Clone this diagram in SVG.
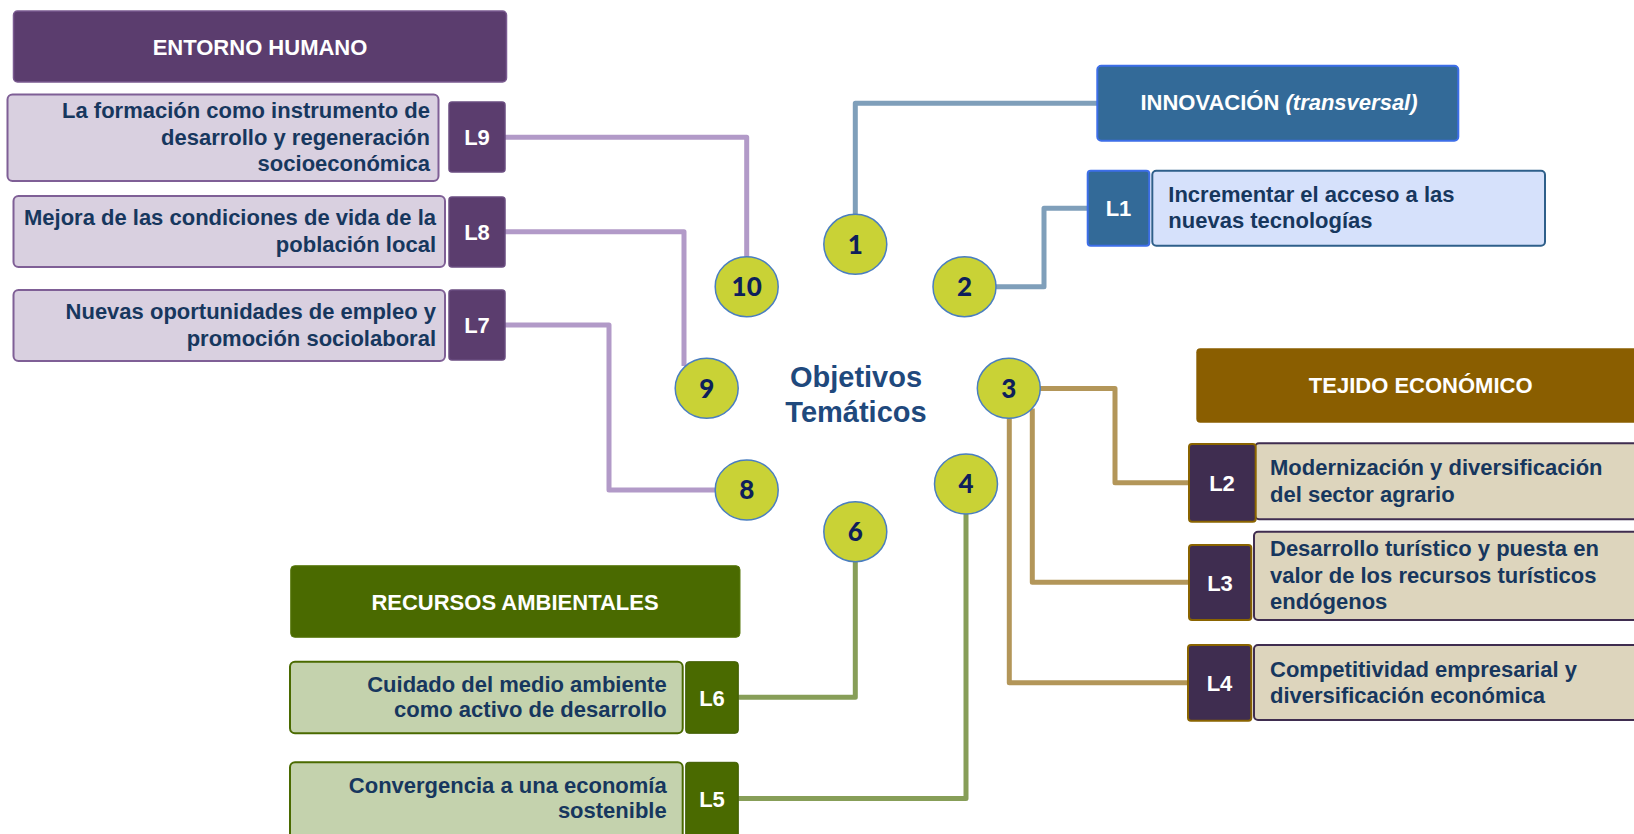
<svg xmlns="http://www.w3.org/2000/svg" width="1634" height="834" viewBox="0 0 1634 834">
<style>
text{font-family:"Liberation Sans",Arial,sans-serif;font-weight:bold}
.hdr{fill:#fff;font-size:22px;text-anchor:middle}
.body{fill:#17375e;font-size:22px}
.r{text-anchor:end}
.tag{fill:#fff;font-size:22px;text-anchor:middle}
.num{font-family:Lato,"Open Sans",sans-serif;font-size:26px;font-weight:900;fill:#0e1f5b;text-anchor:middle}
.circ{fill:#c9d236;stroke:#4a7ec0;stroke-width:1.5}
.con{fill:none;stroke-width:5;stroke-linejoin:round}
.cp{stroke:#b29ac8}.cb{stroke:#7f9fba}.cg{stroke:#b39659}.cv{stroke:#879e58}
.hP{fill:#5b3d6e;stroke:#7a5a90;stroke-width:1.5}
.bP{fill:#d9d0e0;stroke:#7f5f96;stroke-width:2}
.tP{fill:#5b3d6e;stroke:#6a4c80;stroke-width:1.5}
.hB{fill:#336a98;stroke:#3d6ee8;stroke-width:2}
.bB{fill:#d6e1fb;stroke:#2e5f8a;stroke-width:2}
.hG{fill:#8a5e00}
.tG{fill:#3f2d50;stroke:#8a6400;stroke-width:2}
.bG{fill:#ddd5bd;stroke:#3f2d50;stroke-width:2}
.hV{fill:#4a6a00;stroke:#5a7a10;stroke-width:1}
.bV{fill:#c4d2ad;stroke:#4a6a00;stroke-width:2}
.tV{fill:#4a6a00;stroke:#3f5c00;stroke-width:1}
</style>
<rect width="1634" height="834" fill="#fff"/>
<g id="connectors">
<path class="con cp" d="M505 137.3H746.7V256.7"/>
<path class="con cp" d="M505 231.7H684V366"/>
<path class="con cp" d="M505 325H609V490H715"/>
<path class="con cb" d="M855.3 214.3V103.3H1097"/>
<path class="con cb" d="M995.5 286.7H1044V208.3H1088"/>
<path class="con cg" d="M1040 388.5H1115V482.7H1189"/>
<path class="con cg" d="M1032.3 408.5V582.3H1189"/>
<path class="con cg" d="M1009.3 418.3V682.7H1188"/>
<path class="con cv" d="M855.3 561.7V697.3H738.3"/>
<path class="con cv" d="M966 514V798.5H738.3"/>
</g>
<g id="entorno-humano">
<rect class="hP" x="13.5" y="11" width="493" height="71" rx="4"/>
<text class="hdr" x="260" y="55">ENTORNO HUMANO</text>
</g>
<g id="L9">
<rect class="bP" x="7.5" y="94.5" width="431" height="86.5" rx="5"/>
<text class="body r" x="430" y="118">La formación como instrumento de</text>
<text class="body r" x="430" y="145">desarrollo y regeneración</text>
<text class="body r" x="430" y="171">socioeconómica</text>
<rect class="tP" x="449" y="102" width="56" height="70" rx="3"/>
<text class="tag" x="477" y="145">L9</text>
</g>
<g id="L8">
<rect class="bP" x="13.5" y="196" width="431.5" height="71" rx="5"/>
<text class="body r" x="436" y="225">Mejora de las condiciones de vida de la</text>
<text class="body r" x="436" y="252">población local</text>
<rect class="tP" x="449" y="197" width="56" height="70" rx="3"/>
<text class="tag" x="477" y="240">L8</text>
</g>
<g id="L7">
<rect class="bP" x="13.5" y="290" width="431.5" height="71" rx="5"/>
<text class="body r" x="436" y="319">Nuevas oportunidades de empleo y</text>
<text class="body r" x="436" y="345.7">promoción sociolaboral</text>
<rect class="tP" x="449" y="290" width="56" height="70" rx="3"/>
<text class="tag" x="477" y="333">L7</text>
</g>
<g id="innovacion">
<rect class="hB" x="1097.3" y="65.7" width="361" height="75" rx="4"/>
<text class="hdr" x="1279" y="110">INNOVACIÓN <tspan font-style="italic">(transversal)</tspan></text>
</g>
<g id="L1">
<rect class="hB" x="1087.7" y="170.7" width="61.6" height="75" rx="3"/>
<text class="tag" x="1118.5" y="216">L1</text>
<rect class="bB" x="1152.3" y="170.7" width="392.7" height="75" rx="4"/>
<text class="body" x="1168.3" y="201.7">Incrementar el acceso a las</text>
<text class="body" x="1168.3" y="228.3">nuevas tecnologías</text>
</g>
<g id="tejido-economico">
<rect class="hG" x="1196.3" y="348.3" width="460" height="74.4" rx="4"/>
<text class="hdr" x="1420.7" y="393">TEJIDO ECONÓMICO</text>
</g>
<g id="L2">
<rect class="bG" x="1255" y="443.3" width="400" height="76" rx="4"/>
<text class="body" x="1270" y="475">Modernización y diversificación</text>
<text class="body" x="1270" y="502.3">del sector agrario</text>
<rect class="tG" x="1189" y="444" width="66.7" height="77.7" rx="3"/>
<text class="tag" x="1222" y="491">L2</text>
</g>
<g id="L3">
<rect class="bG" x="1254" y="531.7" width="400" height="88.3" rx="4"/>
<text class="body" x="1270" y="556">Desarrollo turístico y puesta en</text>
<text class="body" x="1270" y="582.7">valor de los recursos turísticos</text>
<text class="body" x="1270" y="609.3">endógenos</text>
<rect class="tG" x="1189" y="545" width="62.3" height="75" rx="3"/>
<text class="tag" x="1220" y="591">L3</text>
</g>
<g id="L4">
<rect class="bG" x="1254" y="645" width="400" height="75" rx="4"/>
<text class="body" x="1270" y="676.7">Competitividad empresarial y</text>
<text class="body" x="1270" y="702.7">diversificación económica</text>
<rect class="tG" x="1188" y="645" width="63.3" height="75.7" rx="3"/>
<text class="tag" x="1219.5" y="690.5">L4</text>
</g>
<g id="recursos-ambientales">
<rect class="hV" x="290.7" y="565.7" width="449.3" height="71.6" rx="4"/>
<text class="hdr" x="515" y="610">RECURSOS AMBIENTALES</text>
</g>
<g id="L6">
<rect class="bV" x="290" y="661.7" width="392.7" height="71.6" rx="5"/>
<text class="body r" x="666.7" y="691.7">Cuidado del medio ambiente</text>
<text class="body r" x="666.7" y="716.7">como activo de desarrollo</text>
<rect class="tV" x="685.7" y="661.7" width="52.6" height="71.6" rx="3"/>
<text class="tag" x="712" y="705.7">L6</text>
</g>
<g id="L5">
<rect class="bV" x="290" y="762.3" width="392.7" height="90" rx="5"/>
<text class="body r" x="666.7" y="793.3">Convergencia a una economía</text>
<text class="body r" x="666.7" y="818.3">sostenible</text>
<rect class="tV" x="685.7" y="762.3" width="52.6" height="90" rx="3"/>
<text class="tag" x="712" y="806.7">L5</text>
</g>
<g id="objetivos-tematicos">
<text x="856" y="386.7" font-size="29" fill="#1f497d" text-anchor="middle">Objetivos</text>
<text x="856" y="421.7" font-size="29" fill="#1f497d" text-anchor="middle">Temáticos</text>
</g>
<g id="ot1"><ellipse class="circ" cx="855.3" cy="244.3" rx="31.5" ry="30"/><text class="num" x="855.3" y="253.5">1</text></g>
<g id="ot2"><ellipse class="circ" cx="964.5" cy="286.7" rx="31.5" ry="30"/><text class="num" x="964.5" y="295.9">2</text></g>
<g id="ot3"><ellipse class="circ" cx="1008.8" cy="388.3" rx="31.5" ry="30"/><text class="num" x="1008.8" y="397.5">3</text></g>
<g id="ot4"><ellipse class="circ" cx="966" cy="484" rx="31.5" ry="30"/><text class="num" x="966" y="493.2">4</text></g>
<g id="ot6"><ellipse class="circ" cx="855.3" cy="531.7" rx="31.5" ry="30"/><text class="num" x="855.3" y="540.9">6</text></g>
<g id="ot8"><ellipse class="circ" cx="746.7" cy="490" rx="31.5" ry="30"/><text class="num" x="746.7" y="499.2">8</text></g>
<g id="ot9"><ellipse class="circ" cx="706.7" cy="388.3" rx="31.5" ry="30"/><text class="num" x="706.7" y="397.5">9</text></g>
<g id="ot10"><ellipse class="circ" cx="746.7" cy="286.7" rx="31.5" ry="30"/><text class="num" x="746.7" y="295.9">10</text></g>
</svg>
